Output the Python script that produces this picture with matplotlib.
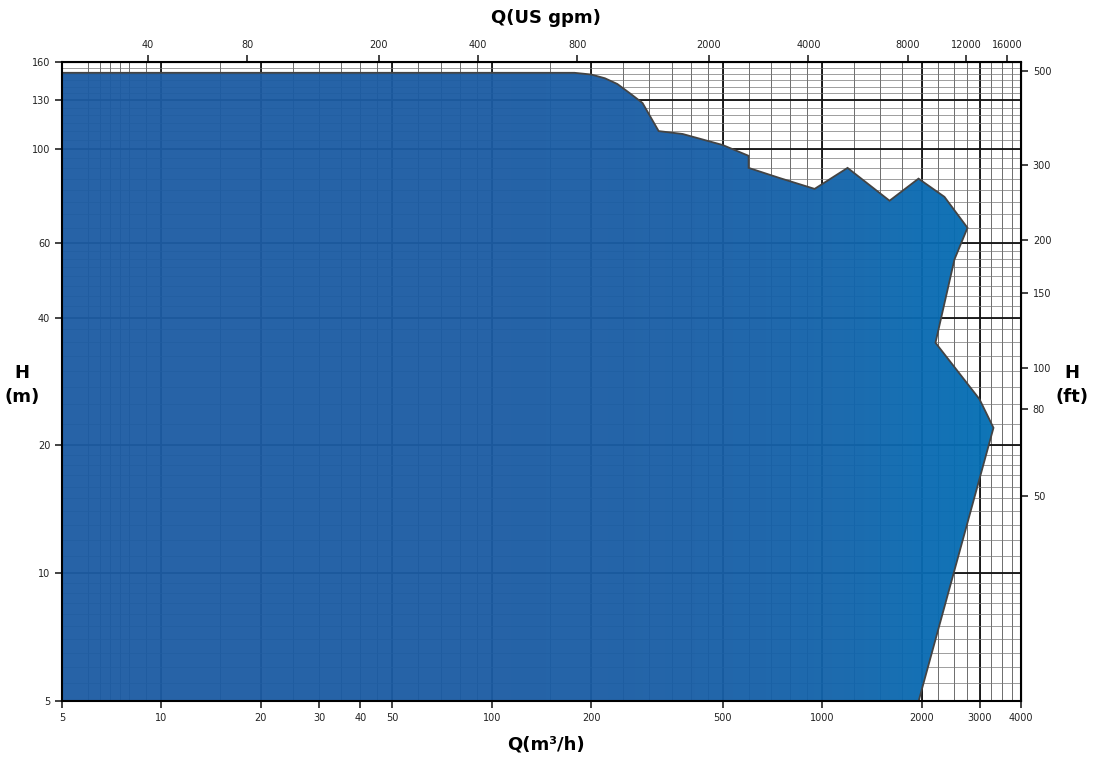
import numpy as np
import matplotlib.pyplot as plt
from matplotlib.path import Path
from matplotlib.patches import PathPatch
from matplotlib.colors import LinearSegmentedColormap

# operating envelope boundary (Q in m3/h, H in m), clockwise from top-left
q_env = [5, 178, 200, 220, 240, 262, 286, 320, 378, 500, 599, 599, 743, 949, 1194,
         1600, 1958, 2346, 2755, 2515, 2204, 2995, 3302, 1960, 5]
h_env = [150.9, 150.9, 149.5, 146.5, 142, 135, 128.1, 110, 108.3, 102, 96.2, 90.1,
         85.3, 80.4, 90.1, 75.4, 85, 77, 65.1, 54.8, 34.9, 25.7, 22, 5, 5]

x_ticks = [5, 10, 20, 30, 40, 50, 100, 200, 500, 1000, 2000, 3000, 4000]
y_ticks = [5, 10, 20, 40, 60, 100, 130, 160]
gpm_ticks = [40, 80, 200, 400, 800, 2000, 4000, 8000, 12000, 16000]
ft_ticks = [50, 80, 100, 150, 200, 300, 500]

GPM = 4.4029
FT = 3.2808

fig = plt.figure(figsize=(10.97, 7.59), dpi=100)
ax = fig.add_axes([62/1097, 1-701/759, (1021-62)/1097, (701-62)/759])
ax.set_xscale('log')
ax.set_yscale('log')
ax.set_xlim(5, 4000)
ax.set_ylim(5, 160)

# grid
xg = list(np.arange(5, 10, 1)) + list(np.arange(10, 100, 10)) + list(np.arange(100, 1000, 100)) + list(np.arange(1000, 4001, 250))
xg += [6.5, 7.5, 15, 25, 35, 45, 150, 250, 350, 450]
for v in xg:
    ax.axvline(v, color='#333333', lw=0.5, zorder=1)
for v in [10, 20, 50, 100, 200, 500, 1000, 2000, 3000]:
    ax.axvline(v, color='#111111', lw=1.3, zorder=1)
yg = list(np.arange(5, 10, 0.5)) + list(np.arange(10, 20, 1)) + list(np.arange(20, 60, 2.5)) + list(np.arange(60, 161, 5))
for v in yg:
    ax.axhline(v, color='#777777', lw=0.5, zorder=1)
for v in [10, 20, 40, 60, 100, 130]:
    ax.axhline(v, color='#111111', lw=1.3, zorder=1)

# gradient fill clipped to envelope
verts = list(zip(q_env, h_env)) + [(q_env[0], h_env[0])]
patch = PathPatch(Path(verts, closed=True), facecolor='none', edgecolor='#444444', lw=1.3, zorder=4)
ax.add_patch(patch)
grad = np.linspace(0, 1, 256).reshape(1, -1)
cmap = LinearSegmentedColormap.from_list('b', ['#1d5ca3', '#0a6bb2', '#0072b5'])
im = ax.imshow(grad, cmap=cmap, extent=[5, 4000, 5, 160], aspect='auto', alpha=0.96, zorder=3)
im.set_clip_path(patch)

ax.set_xticks(x_ticks)
ax.set_xticklabels([str(v) for v in x_ticks])
ax.set_yticks(y_ticks)
ax.set_yticklabels([str(v) for v in y_ticks])
ax.minorticks_off()
ax.tick_params(labelsize=7, length=5, width=1.2, colors='#222222')
for s in ax.spines.values():
    s.set_linewidth(1.5)
    s.set_zorder(5)

top = ax.secondary_xaxis('top', functions=(lambda q: q*GPM, lambda g: g/GPM))
top.set_xticks(gpm_ticks)
top.set_xticklabels([str(v) for v in gpm_ticks])
top.minorticks_off()
top.tick_params(labelsize=7, length=5, width=1.2, colors='#222222')

right = ax.secondary_yaxis('right', functions=(lambda h: h*FT, lambda f: f/FT))
right.set_yticks(ft_ticks)
right.set_yticklabels([str(v) for v in ft_ticks])
right.minorticks_off()
right.tick_params(labelsize=7, length=5, width=1.2, colors='#222222')

fig.text(546/1097, 1-18/759, 'Q(US gpm)', ha='center', va='center', fontsize=13, fontweight='heavy')
fig.text(546/1097, 1-745/759, 'Q(m³/h)', ha='center', va='center', fontsize=13, fontweight='heavy')
fig.text(22/1097, 1-385/759, 'H\n(m)', ha='center', va='center', fontsize=13, fontweight='heavy', linespacing=1.5)
fig.text(1072/1097, 1-385/759, 'H\n(ft)', ha='center', va='center', fontsize=13, fontweight='heavy', linespacing=1.5)

fig.savefig('out.png', dpi=100)
